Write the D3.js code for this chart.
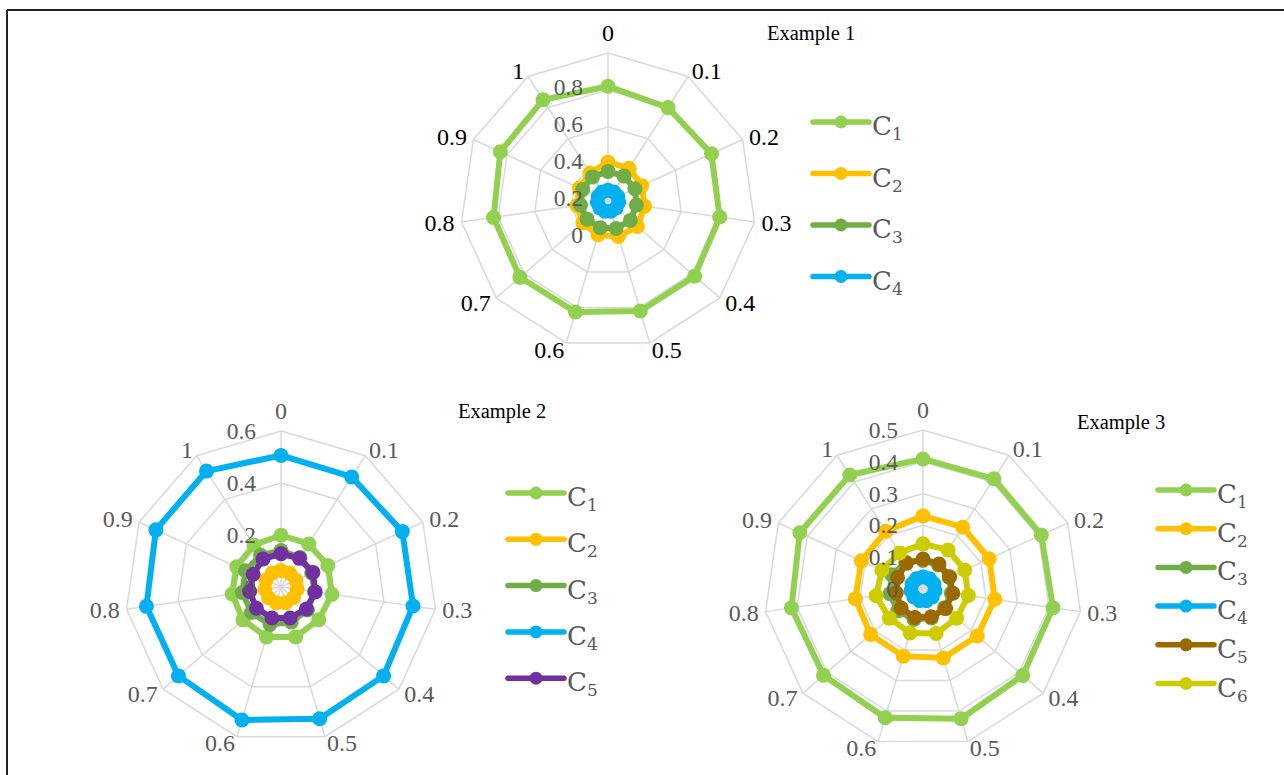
<!DOCTYPE html>
<html>
<head>
<meta charset="utf-8">
<script src="https://cdn.jsdelivr.net/npm/d3@7"></script>
<style>
  html, body { margin: 0; padding: 0; background: #fff; }
  svg { display: block; }
</style>
</head>
<body>
<svg id="chart" width="1284" height="775"></svg>
<script>
// ---------- data ----------
const axisLabels = ["0", "0.1", "0.2", "0.3", "0.4", "0.5", "0.6", "0.7", "0.8", "0.9", "1"];
const seriesNames = ["C1", "C2", "C3", "C4", "C5", "C6"];
const seriesColors = ["#92D050", "#FFC000", "#70AD47", "#00B0F0", "#7030A0", "#CCCC00"];
const ex3C5Color = "#9A6A00";

// Example 1 (value axis: centre 0.2, outer ring 1.0)
const ex1Ticks = [0, 0.2, 0.4, 0.6, 0.8];
const ex1Rings = [0.4, 0.6, 0.8, 1.0];
const ex1C1 = [0.82, 0.80, 0.815, 0.81, 0.82, 0.82, 0.825, 0.83, 0.825, 0.84, 0.85];
const ex1C2 = [0.41, 0.41, 0.40, 0.40, 0.41, 0.40, 0.39, 0.38, 0.37, 0.37, 0.38];
const ex1C3 = [0.36, 0.36, 0.36, 0.355, 0.36, 0.355, 0.35, 0.35, 0.35, 0.35, 0.355];
const ex1C4 = [0.258, 0.258, 0.258, 0.258, 0.258, 0.258, 0.258, 0.258, 0.258, 0.258, 0.258];

// Example 2
const ex2Ticks = [0, 0.2, 0.4, 0.6];
const ex2C1 = [0.199, 0.197, 0.198, 0.198, 0.192, 0.2, 0.2, 0.193, 0.19, 0.187, 0.192];
const ex2C2 = [0.063, 0.063, 0.063, 0.063, 0.063, 0.063, 0.063, 0.063, 0.063, 0.063, 0.063];
const ex2C3 = [0.14, 0.135, 0.13, 0.13, 0.135, 0.14, 0.15, 0.15, 0.15, 0.15, 0.145];
const ex2C4 = [0.506, 0.503, 0.513, 0.513, 0.522, 0.528, 0.533, 0.522, 0.523, 0.529, 0.530];
const ex2C5 = [0.128, 0.131, 0.135, 0.133, 0.129, 0.124, 0.124, 0.125, 0.122, 0.118, 0.128];

// Example 3
const ex3Ticks = [0, 0.1, 0.2, 0.3, 0.4, 0.5];
const ex3C1 = [0.409, 0.412, 0.409, 0.413, 0.415, 0.425, 0.422, 0.414, 0.418, 0.426, 0.426];
const ex3C2 = [0.230, 0.231, 0.229, 0.228, 0.226, 0.226, 0.220, 0.218, 0.215, 0.213, 0.216];
const ex3C3 = [0.09, 0.09, 0.09, 0.09, 0.09, 0.095, 0.10, 0.105, 0.105, 0.108, 0.10];
const ex3C4 = [0.038, 0.038, 0.038, 0.038, 0.038, 0.038, 0.038, 0.038, 0.038, 0.038, 0.038];
const ex3C5 = [0.094, 0.093, 0.092, 0.095, 0.094, 0.091, 0.093, 0.091, 0.085, 0.088, 0.096];
const ex3C6 = [0.142, 0.146, 0.144, 0.144, 0.140, 0.146, 0.144, 0.140, 0.149, 0.142, 0.135];

// ---------- drawing ----------
const svg = d3.select("#chart");
const serif = "'Liberation Serif', 'Times New Roman', serif";
const legendFont = "'DejaVu Serif', serif";

// frame
svg.append("line").attr("x1", 7).attr("y1", 10).attr("x2", 1284).attr("y2", 10)
  .attr("stroke", "#222").attr("stroke-width", 2);
svg.append("line").attr("x1", 7).attr("y1", 10).attr("x2", 7).attr("y2", 775)
  .attr("stroke", "#222").attr("stroke-width", 2);

const N = axisLabels.length;
const angle = d3.scaleLinear().domain([0, N]).range([0, 2 * Math.PI]);

function radar(cfg) {
  const r = d3.scaleLinear().domain(cfg.domain).range([0, cfg.R]);
  const g = svg.append("g").attr("transform", `translate(${cfg.cx},${cfg.cy})`);

  // grid rings
  const ringLine = d3.lineRadial()
    .angle((d, i) => angle(i))
    .radius(d => r(d))
    .curve(d3.curveLinearClosed);
  cfg.rings.forEach(v => {
    g.append("path").attr("d", ringLine(d3.range(N).map(() => v)))
      .attr("fill", "none").attr("stroke", "#D9D9D9").attr("stroke-width", 1.5);
  });
  // spokes
  d3.range(N).forEach(i => {
    const a = angle(i);
    g.append("line").attr("x1", 0).attr("y1", 0)
      .attr("x2", cfg.R * Math.sin(a)).attr("y2", -cfg.R * Math.cos(a))
      .attr("stroke", "#D9D9D9").attr("stroke-width", 1.5);
  });

  // category labels
  axisLabels.forEach((lab, i) => {
    const a = angle(i);
    const s = Math.sin(a), c = Math.cos(a);
    let x = (cfg.R + 7) * s;
    let y = -(cfg.R + 7) * c;
    let anchor = "middle";
    if (s > 0.1) anchor = "start";
    else if (s < -0.1) anchor = "end";
    if (i === 0) y -= 13;
    g.append("text").attr("x", x).attr("y", y)
      .attr("text-anchor", anchor).attr("dominant-baseline", "central")
      .attr("font-family", serif).attr("font-size", 24)
      .attr("fill", cfg.labelColor).text(lab);
  });

  // series
  const line = d3.lineRadial()
    .angle((d, i) => angle(i))
    .radius(d => r(d))
    .curve(d3.curveLinearClosed);
  cfg.series.forEach(s => {
    g.append("path").attr("d", line(s.values))
      .attr("fill", "none").attr("stroke", s.color)
      .attr("stroke-width", 6).attr("stroke-linejoin", "round");
    g.selectAll(null).data(s.values).enter().append("circle")
      .attr("cx", (d, i) => r(d) * Math.sin(angle(i)))
      .attr("cy", (d, i) => -r(d) * Math.cos(angle(i)))
      .attr("r", cfg.markerR).attr("fill", s.color);
  });

  // value tick labels
  cfg.ticks.forEach(v => {
    g.append("text").attr("x", -25).attr("y", -r(v) + cfg.tickDy)
      .attr("text-anchor", "end").attr("dominant-baseline", "central")
      .attr("font-family", serif).attr("font-size", 23.5)
      .attr("fill", "#595959").text(v);
  });

  // title
  svg.append("text").attr("x", cfg.titleX).attr("y", cfg.titleY)
    .attr("font-family", serif).attr("font-size", 20.5).attr("fill", "#000")
    .text(cfg.title);

  // legend
  const lg = svg.append("g").attr("transform", `translate(${cfg.legendX},${cfg.legendY})`);
  cfg.series.forEach((s, k) => {
    const y = k * cfg.legendStep;
    lg.append("line").attr("x1", 0).attr("x2", 56).attr("y1", y).attr("y2", y)
      .attr("stroke", s.color).attr("stroke-width", 5.5).attr("stroke-linecap", "round");
    lg.append("circle").attr("cx", 28).attr("cy", y).attr("r", 6.5).attr("fill", s.color);
    const t = lg.append("text").attr("x", 59).attr("y", y + 13)
      .attr("font-family", legendFont).attr("font-size", 26).attr("fill", "#595959");
    t.append("tspan").text(s.name.charAt(0));
    t.append("tspan").attr("font-size", 17).attr("dy", 5).text(s.name.slice(1));
  });
}

radar({
  cx: 608, cy: 201, R: 148, domain: [0.2, 1.0], rings: ex1Rings, ticks: ex1Ticks, tickDy: -3,
  labelColor: "#000", markerR: 7.5,
  series: [
    { name: seriesNames[0], color: seriesColors[0], values: ex1C1 },
    { name: seriesNames[1], color: seriesColors[1], values: ex1C2 },
    { name: seriesNames[2], color: seriesColors[2], values: ex1C3 },
    { name: seriesNames[3], color: seriesColors[3], values: ex1C4 }
  ],
  title: "Example 1", titleX: 767, titleY: 40,
  legendX: 813, legendY: 122, legendStep: 51.5
});

radar({
  cx: 281, cy: 587, R: 156, domain: [0, 0.6], rings: ex2Ticks.slice(1), ticks: ex2Ticks, tickDy: 0,
  labelColor: "#595959", markerR: 7.5,
  series: [
    { name: seriesNames[0], color: seriesColors[0], values: ex2C1 },
    { name: seriesNames[1], color: seriesColors[1], values: ex2C2 },
    { name: seriesNames[2], color: seriesColors[2], values: ex2C3 },
    { name: seriesNames[3], color: seriesColors[3], values: ex2C4 },
    { name: seriesNames[4], color: seriesColors[4], values: ex2C5 }
  ],
  title: "Example 2", titleX: 458, titleY: 418,
  legendX: 508, legendY: 493, legendStep: 46.3
});

radar({
  cx: 923, cy: 589, R: 159, domain: [0, 0.5], rings: ex3Ticks.slice(1), ticks: ex3Ticks, tickDy: 0,
  labelColor: "#595959", markerR: 7.5,
  series: [
    { name: seriesNames[0], color: seriesColors[0], values: ex3C1 },
    { name: seriesNames[1], color: seriesColors[1], values: ex3C2 },
    { name: seriesNames[2], color: seriesColors[2], values: ex3C3 },
    { name: seriesNames[3], color: seriesColors[3], values: ex3C4 },
    { name: seriesNames[4], color: ex3C5Color, values: ex3C5 },
    { name: seriesNames[5], color: seriesColors[5], values: ex3C6 }
  ],
  title: "Example 3", titleX: 1077, titleY: 429,
  legendX: 1158, legendY: 490, legendStep: 38.7
});
</script>
</body>
</html>
